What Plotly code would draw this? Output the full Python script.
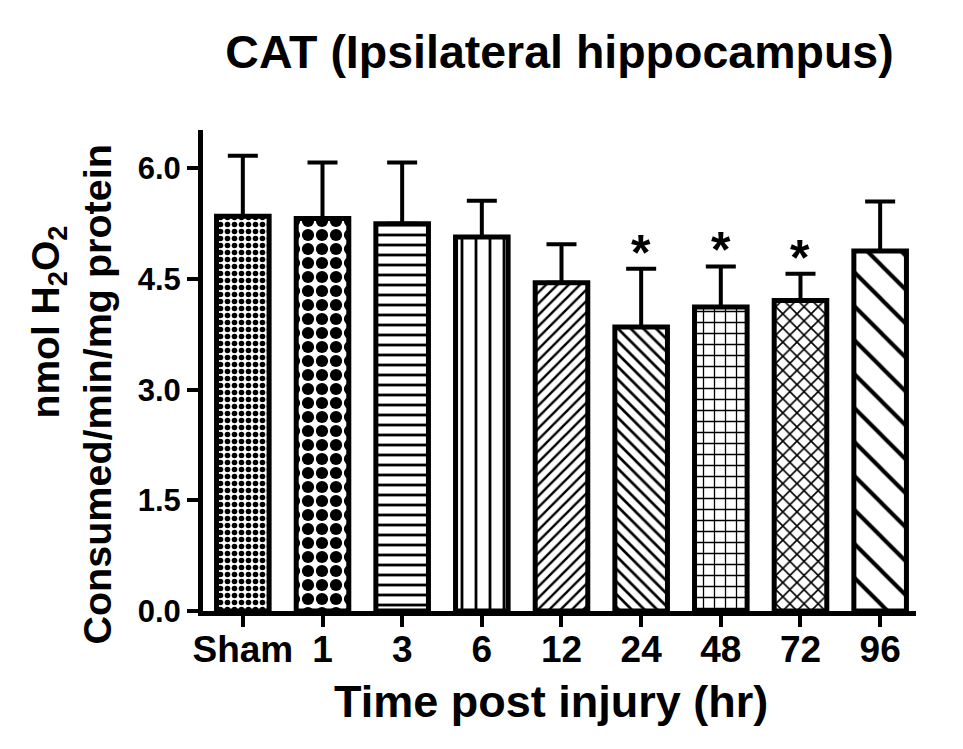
import plotly.graph_objects as go

categories = ["Sham", "1", "3", "6", "12", "24", "48", "72", "96"]
means = [5.35, 5.32, 5.25, 5.07, 4.45, 3.85, 4.12, 4.21, 4.88]
sems = [0.82, 0.76, 0.83, 0.49, 0.52, 0.79, 0.55, 0.36, 0.67]
significant = [False, False, False, False, False, True, True, True, False]
ytick_vals = [0.0, 1.5, 3.0, 4.5, 6.0]
ytick_text = ["0.0", "1.5", "3.0", "4.5", "6.0"]

pattern_shapes = [".", ".", "-", "|", "/", "\\", "+", "x", "\\"]
pattern_sizes = [7, 14, 10, 14, 8, 9, 11, 10, 24]
pattern_solidity = [0.5, 0.6, 0.28, 0.2, 0.3, 0.3, 0.22, 0.3, 0.17]

FONT = "Liberation Sans, Arial, sans-serif"

fig = go.Figure()
fig.add_trace(go.Bar(
    x=categories,
    y=means,
    width=0.66,
    marker=dict(
        color="white",
        line=dict(color="black", width=5),
        pattern=dict(shape=pattern_shapes, size=pattern_sizes,
                     solidity=pattern_solidity, fgcolor="black",
                     bgcolor="white", fillmode="replace"),
    ),
    error_y=dict(type="data", array=sems, arrayminus=[0] * len(sems),
                 symmetric=False, color="black", thickness=4, width=15),
    showlegend=False,
))

for i, (m, s, sig) in enumerate(zip(means, sems, significant)):
    if sig:
        fig.add_annotation(x=i, y=m + s, text="<b>*</b>", showarrow=False,
                           yanchor="bottom", yshift=-14,
                           font=dict(family=FONT, size=50, color="black"))

fig.add_annotation(xref="paper", yref="paper", x=0.488, y=0, yshift=-63,
                   xanchor="center", yanchor="top", showarrow=False,
                   text="<b>Time post injury (hr)</b>",
                   font=dict(family=FONT, size=45, color="black"))
fig.add_annotation(xref="paper", yref="paper", x=0, xshift=-155,
                   xanchor="center", yanchor="middle",
                   y=0.60, textangle=-90, showarrow=False,
                   text="<b>nmol H<sub>2</sub>O<sub>2</sub></b>",
                   font=dict(family=FONT, size=39, color="black"))
fig.add_annotation(xref="paper", yref="paper", x=0, xshift=-106,
                   xanchor="center", yanchor="middle",
                   y=0.45, textangle=-90, showarrow=False,
                   text="<b>Consumed/min/mg protein</b>",
                   font=dict(family=FONT, size=39.5, color="black"))

fig.update_layout(
    width=955, height=741,
    margin=dict(l=195, r=47, t=122, b=138),
    paper_bgcolor="white", plot_bgcolor="white",
    title=dict(text="<b>CAT (Ipsilateral hippocampus)</b>",
               x=0.5, xref="paper", xanchor="center",
               y=1 - 44 / 741, yref="container", yanchor="middle",
               font=dict(family=FONT, size=46.5, color="black")),
)
fig.update_xaxes(
    type="category",
    range=[-0.5, 8.45], showline=True, linewidth=5, linecolor="black",
    ticks="outside", ticklen=11, tickwidth=4, tickcolor="black",
    ticklabelstandoff=-9,
    tickfont=dict(family=FONT, size=37, color="black", weight="bold"),
    showgrid=False, zeroline=False, fixedrange=True,
)
fig.update_yaxes(
    range=[0, 6.52], showline=True, linewidth=5, linecolor="black",
    ticks="outside", ticklen=11, tickwidth=4, tickcolor="black",
    tickvals=ytick_vals, ticktext=ytick_text,
    tickfont=dict(family=FONT, size=31, color="black", weight="bold"),
    showgrid=False, zeroline=False, fixedrange=True,
)

fig.write_html("out.html")
